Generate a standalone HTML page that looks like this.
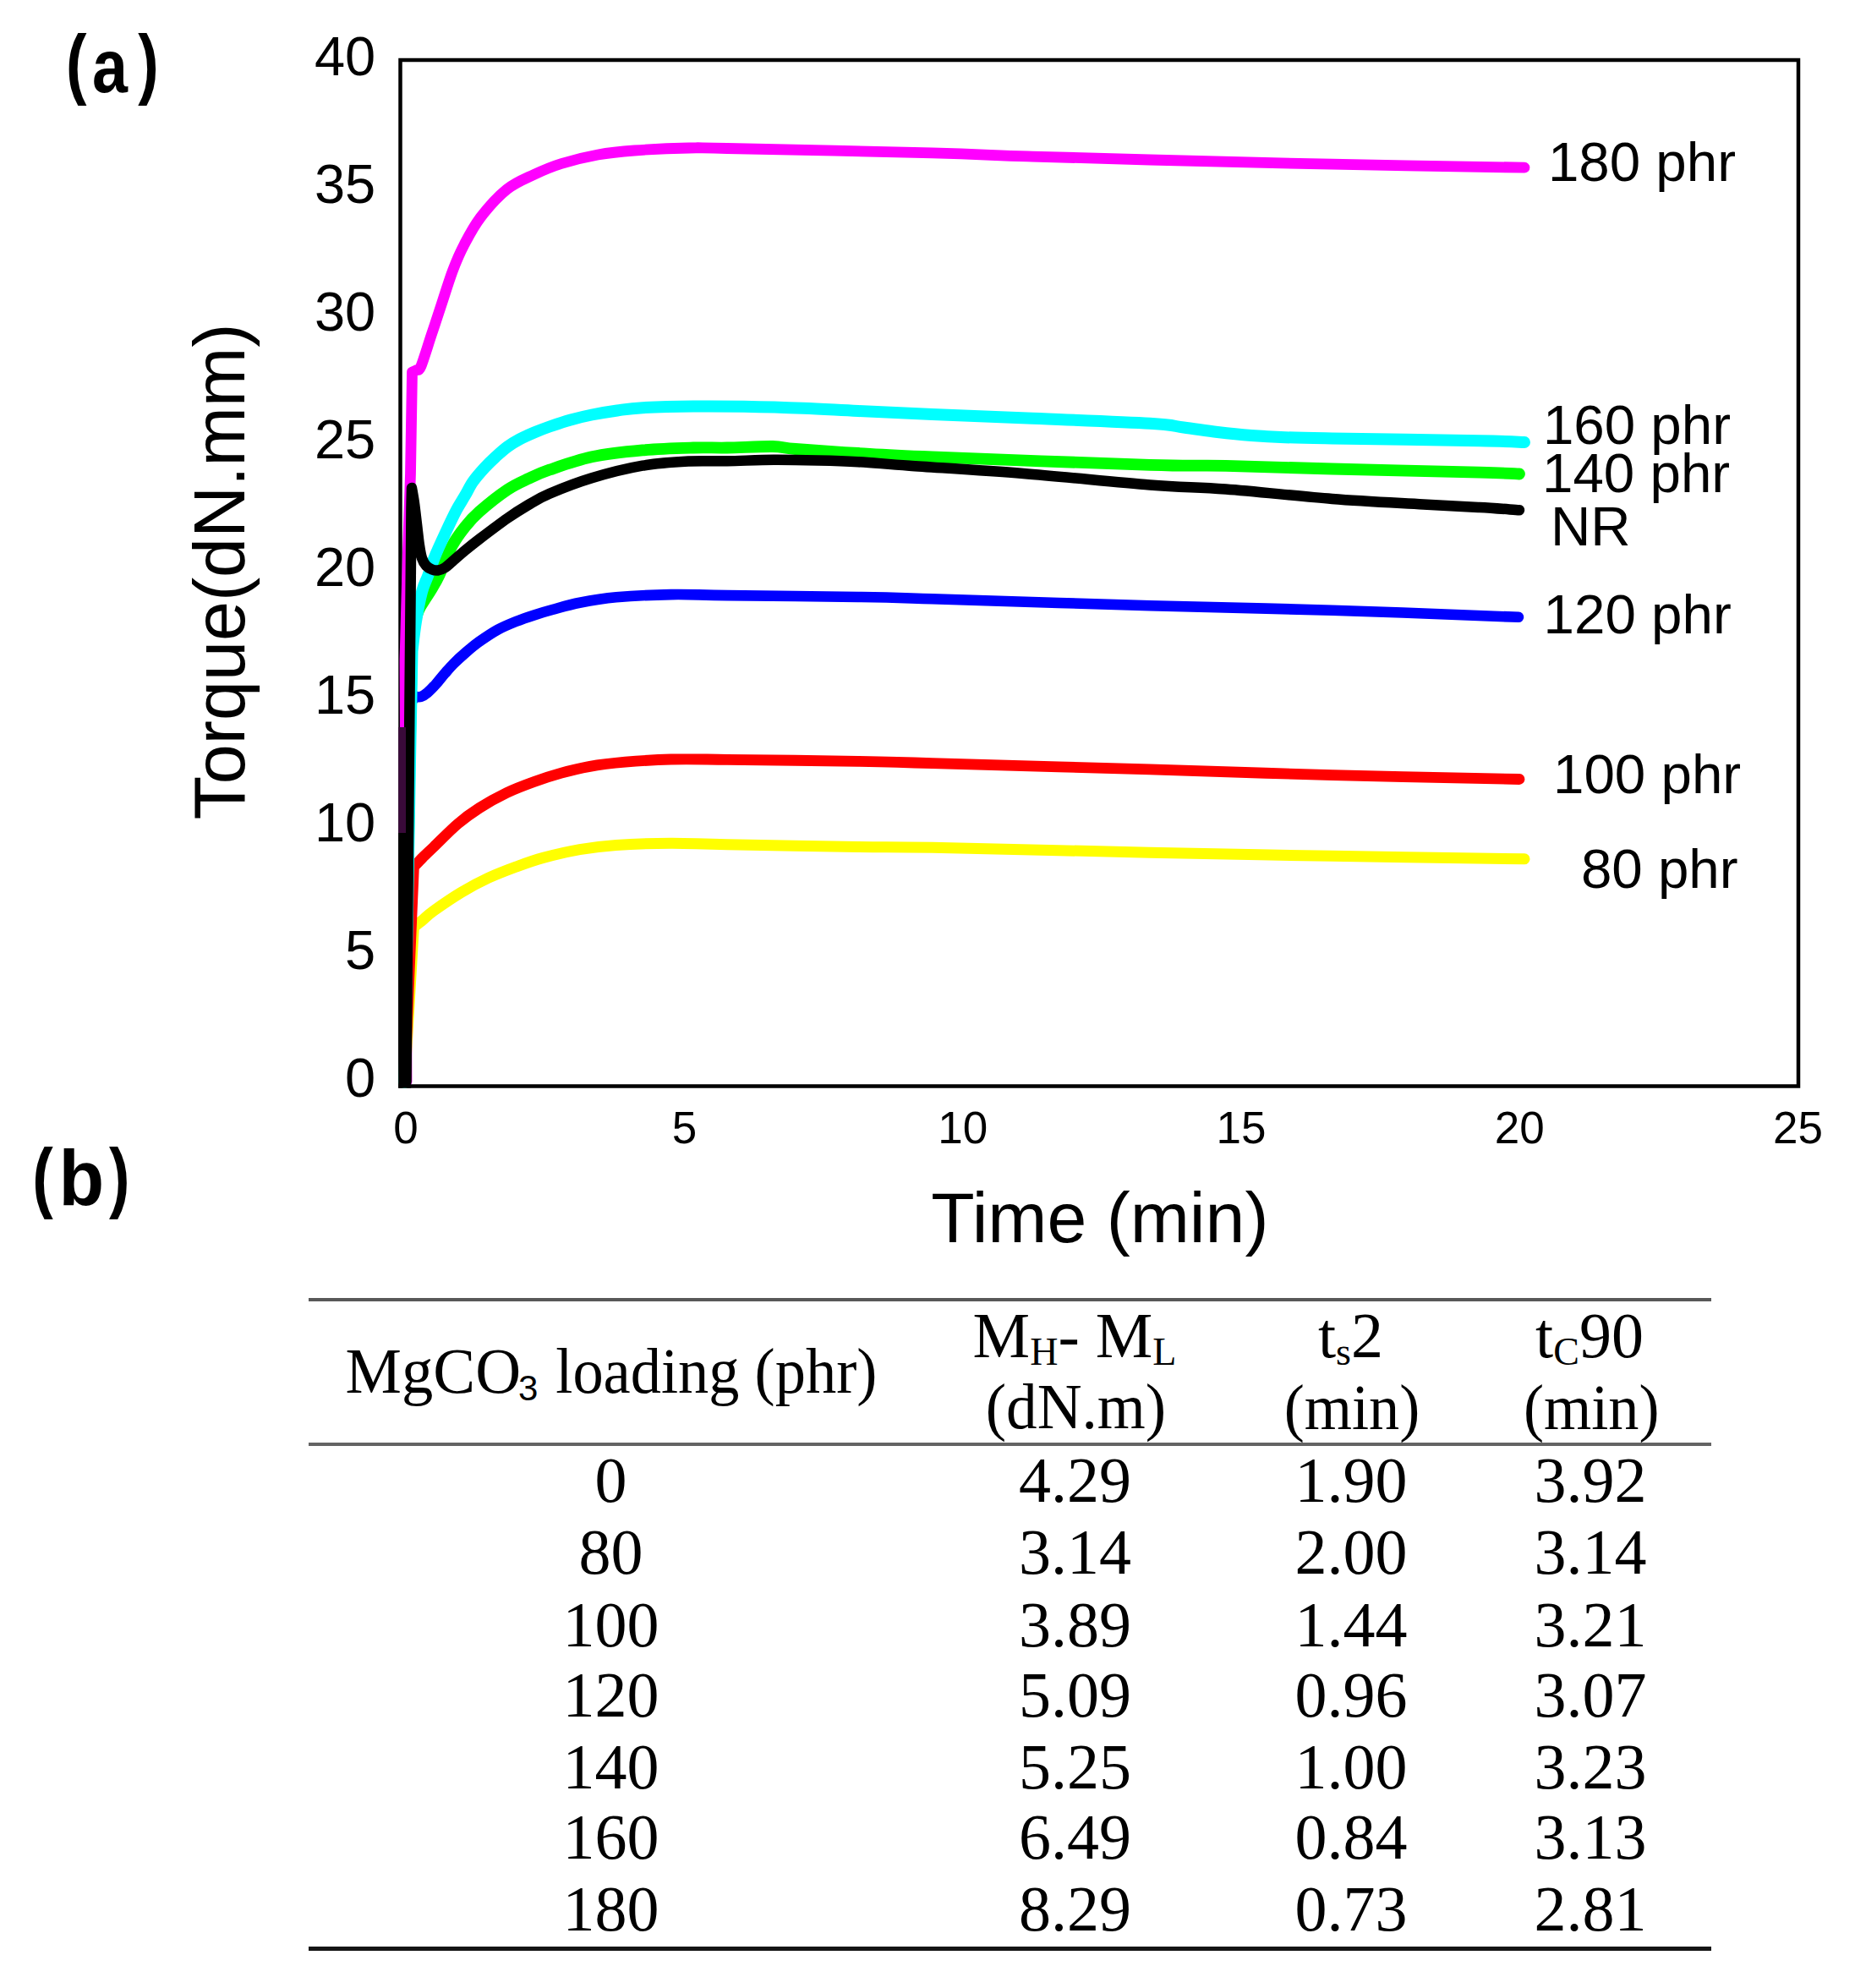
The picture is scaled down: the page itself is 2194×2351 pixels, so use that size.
<!DOCTYPE html>
<html><head><meta charset="utf-8"><title>Torque curves and cure characteristics</title>
<style>
html,body{margin:0;padding:0;background:#fff;}
body{width:2194px;height:2351px;overflow:hidden;position:relative;}
svg{position:absolute;left:0;top:0;display:block;}
.sans{font-family:"Liberation Sans",Arial,sans-serif;}
.serif{font-family:"Liberation Serif","Times New Roman",serif;}
</style></head><body>
<svg width="2194" height="2351" viewBox="0 0 2194 2351">
<rect x="0" y="0" width="2194" height="2351" fill="#fff"/>

<g class="sans" font-size="92" font-weight="bold" fill="#000"><text transform="translate(78.0,106.3) scale(0.8,1.015)">(</text><text transform="translate(109.0,109) scale(0.82,0.96)">a</text><text transform="translate(163.2,106.3) scale(0.8,1.015)">)</text></g>
<g class="sans" font-size="92" font-weight="bold" fill="#000"><text transform="translate(38.3,1422.7) scale(0.8,1.01)">(</text><text transform="translate(69.4,1424.6) scale(0.955,1.01)">b</text><text transform="translate(129.1,1422.7) scale(0.8,1.01)">)</text></g>
<rect x="473.5" y="71" width="1653.5" height="1213.5" fill="none" stroke="#000" stroke-width="4.5"/>
<path d="M478.5,1280.0 L489.4,1096.4 C491.2,1095.0 496.1,1091.2 500.0,1088.0 C503.9,1084.8 505.5,1082.4 513.1,1077.0 C520.7,1071.6 534.7,1061.9 545.5,1055.4 C556.3,1048.9 567.0,1043.2 577.8,1038.2 C588.6,1033.2 599.4,1029.2 610.2,1025.2 C621.0,1021.2 629.9,1017.8 642.5,1014.4 C655.1,1011.0 671.2,1007.2 685.6,1004.7 C700.0,1002.2 710.8,1000.6 728.8,999.4 C746.8,998.1 771.6,997.3 793.5,997.2 C815.4,997.1 823.1,998.1 860.0,998.8 C896.9,999.5 974.6,1000.8 1015.0,1001.4 C1055.4,1002.0 1045.1,1001.2 1102.6,1002.3 C1160.1,1003.4 1281.2,1006.5 1360.0,1008.2 C1438.8,1009.9 1501.8,1011.0 1575.6,1012.3 C1649.4,1013.6 1765.1,1015.2 1803.0,1015.8" fill="none" stroke="#FFFF00" stroke-width="13" stroke-linejoin="round" stroke-linecap="round"/>
<path d="M478.5,1280.0 L489.4,1025.2 C491.2,1023.3 496.1,1018.0 500.0,1014.0 C503.9,1010.0 506.2,1008.1 513.1,1001.5 C520.0,994.9 532.2,982.2 541.2,974.5 C550.2,966.8 557.3,961.7 567.0,955.5 C576.7,949.3 588.6,942.7 599.4,937.5 C610.2,932.3 620.9,928.4 631.7,924.5 C642.5,920.6 653.2,917.2 664.0,914.2 C674.8,911.2 683.8,908.8 696.4,906.6 C709.0,904.4 723.3,902.6 739.5,901.2 C755.7,899.8 773.4,898.5 793.5,898.0 C813.6,897.5 823.1,897.9 860.0,898.3 C896.9,898.7 974.6,899.6 1015.0,900.3 C1055.4,901.0 1045.1,901.0 1102.6,902.6 C1160.1,904.2 1281.2,907.6 1360.0,909.9 C1438.8,912.2 1502.8,914.7 1575.6,916.6 C1648.4,918.5 1760.1,920.7 1797.0,921.5" fill="none" stroke="#FF0000" stroke-width="12.8" stroke-linejoin="round" stroke-linecap="round"/>
<path d="M478.5,1280.0 L484.5,832.0 L491.6,823.9 C492.7,823.9 495.7,824.7 498.0,823.9 C500.3,823.1 502.7,821.5 505.6,819.1 C508.5,816.7 511.9,813.2 515.3,809.4 C518.7,805.6 522.5,800.5 526.1,796.4 C529.7,792.3 532.7,788.7 536.8,784.6 C540.9,780.5 545.9,775.9 550.9,771.6 C555.9,767.3 560.7,763.2 567.0,758.7 C573.3,754.2 581.4,748.7 588.6,744.7 C595.8,740.8 603.0,737.9 610.2,735.0 C617.4,732.1 624.5,729.7 631.7,727.4 C638.9,725.1 644.3,723.4 653.3,721.0 C662.3,718.6 673.0,715.2 685.6,712.8 C698.2,710.3 710.8,707.9 728.8,706.3 C746.8,704.7 771.6,703.5 793.5,703.1 C815.4,702.7 823.1,703.6 860.0,704.1 C896.9,704.6 974.6,705.3 1015.0,706.0 C1055.4,706.7 1045.1,706.5 1102.6,708.2 C1160.1,709.9 1281.2,714.0 1360.0,716.3 C1438.8,718.5 1502.9,719.5 1575.6,721.7 C1648.3,724.0 1759.3,728.4 1796.0,729.8" fill="none" stroke="#0000FF" stroke-width="12.6" stroke-linejoin="round" stroke-linecap="round"/>
<path d="M478.5,1280.0 L484.5,900.0 L487.5,745.0 C488.8,741.2 492.5,727.9 495.0,722.0 C497.5,716.1 499.8,713.7 502.3,709.5 C504.9,705.3 507.4,701.9 510.3,697.0 C513.2,692.1 515.6,688.5 519.6,680.0 C523.6,671.5 529.3,655.5 534.4,646.0 C539.5,636.5 544.6,629.9 550.0,623.1 C555.4,616.3 558.7,612.3 567.0,605.0 C575.3,597.7 590.3,585.7 600.0,579.2 C609.7,572.7 616.7,569.9 625.0,566.0 C633.3,562.1 637.5,559.9 650.0,555.6 C662.5,551.3 681.7,544.2 700.0,540.3 C718.3,536.4 740.0,534.2 760.0,532.4 C780.0,530.6 803.3,530.0 820.0,529.5 C836.7,529.0 844.4,529.8 860.0,529.5 C875.6,529.2 900.4,527.8 913.9,528.0 C927.4,528.2 924.0,529.7 940.9,531.0 C957.8,532.3 988.0,534.4 1015.0,536.0 C1042.0,537.6 1045.1,538.1 1102.6,540.4 C1160.1,542.7 1302.1,548.1 1360.0,549.8 C1417.9,551.5 1414.1,550.0 1450.0,550.8 C1485.9,551.6 1525.6,553.2 1575.6,554.5 C1625.6,555.8 1713.1,557.7 1750.0,558.7 C1786.9,559.7 1789.2,560.2 1797.0,560.5" fill="none" stroke="#00FF00" stroke-width="13.8" stroke-linejoin="round" stroke-linecap="round"/>
<path d="M478.5,1280.0 L485.0,900.0 L487.5,770.0 C488.2,764.2 490.1,746.7 492.0,735.0 C493.9,723.3 496.6,709.2 499.0,700.0 C501.4,690.8 503.8,687.5 506.5,680.0 C509.2,672.5 512.0,663.7 515.5,655.3 C519.0,646.9 523.2,638.0 527.2,629.4 C531.2,620.8 535.9,610.7 539.7,603.5 C543.5,596.3 546.7,591.8 550.0,586.1 C553.3,580.4 555.6,575.0 559.5,569.5 C563.4,564.0 568.9,557.8 573.3,553.0 C577.7,548.2 581.5,544.6 586.0,540.5 C590.5,536.4 595.2,532.0 600.0,528.5 C604.8,525.0 609.2,522.3 614.5,519.5 C619.8,516.7 625.9,514.0 631.8,511.5 C637.7,509.0 642.8,507.0 650.0,504.5 C657.2,502.0 666.7,498.8 675.0,496.5 C683.3,494.2 690.8,492.3 700.0,490.5 C709.2,488.7 720.0,486.9 730.0,485.5 C740.0,484.1 745.0,483.0 760.0,482.2 C775.0,481.4 800.0,480.7 820.0,480.5 C840.0,480.3 858.3,480.4 880.0,480.8 C901.7,481.2 927.5,481.9 950.0,482.8 C972.5,483.7 989.6,484.8 1015.0,486.0 C1040.4,487.2 1069.3,488.5 1102.6,489.9 C1135.9,491.3 1172.1,492.7 1215.0,494.5 C1257.9,496.3 1329.2,499.0 1360.0,500.8 C1390.8,502.6 1386.7,503.8 1400.0,505.5 C1413.3,507.2 1426.7,509.4 1440.0,511.0 C1453.3,512.6 1466.7,514.0 1480.0,515.0 C1493.3,516.0 1504.1,516.6 1520.0,517.2 C1535.9,517.8 1537.3,517.8 1575.6,518.5 C1613.9,519.2 1712.1,520.5 1750.0,521.3 C1787.9,522.0 1794.2,522.7 1803.0,523.0" fill="none" stroke="#00FFFF" stroke-width="14" stroke-linejoin="round" stroke-linecap="round"/>
<path d="M481.0,1279.0 L479.0,780.0 L482.5,650.0 L485.5,560.0 L487.5,440.0 L493.0,437.5 C493.8,436.8 495.2,439.8 498.0,433.0 C500.8,426.2 506.0,408.9 510.0,396.8 C514.0,384.7 517.8,373.4 522.0,360.6 C526.2,347.8 531.0,331.9 535.5,320.0 C540.0,308.1 543.5,299.9 549.0,289.4 C554.5,278.9 560.0,267.9 568.4,257.0 C576.8,246.1 588.9,232.4 599.4,224.0 C609.9,215.6 620.7,211.6 631.5,206.5 C642.3,201.4 651.4,197.4 664.0,193.5 C676.6,189.6 692.8,185.6 707.2,183.0 C721.6,180.4 732.3,179.3 750.3,178.0 C768.3,176.7 796.7,175.4 815.0,175.0 C833.3,174.6 812.1,174.5 860.0,175.5 C907.9,176.5 1043.4,179.3 1102.6,180.9 C1161.8,182.5 1172.1,183.6 1215.0,184.9 C1257.9,186.2 1299.9,187.4 1360.0,189.0 C1420.1,190.6 1501.8,192.7 1575.6,194.2 C1649.4,195.7 1765.1,197.5 1803.0,198.2" fill="none" stroke="#FF00FF" stroke-width="12.8" stroke-linejoin="round" stroke-linecap="round"/>
<path d="M480.5,1279.0 L486.5,600.0 L487.0,577.0 C487.5,580.0 489.0,587.8 490.0,595.0 C491.0,602.2 492.0,611.7 493.0,620.0 C494.0,628.3 495.0,638.3 496.0,645.0 C497.0,651.7 497.7,656.0 499.0,660.0 C500.3,664.0 502.0,666.8 504.0,669.0 C506.0,671.2 508.7,672.6 511.0,673.5 C513.3,674.4 515.5,674.8 518.0,674.5 C520.5,674.2 523.2,673.2 526.0,671.5 C528.8,669.8 531.0,667.4 535.0,664.0 C539.0,660.6 544.7,655.4 550.0,651.0 C555.3,646.6 558.7,643.8 567.0,637.5 C575.3,631.2 590.3,619.8 600.0,613.0 C609.7,606.2 616.7,601.9 625.0,597.0 C633.3,592.1 637.5,589.1 650.0,583.8 C662.5,578.5 681.7,570.8 700.0,565.3 C718.3,559.8 740.8,554.0 760.0,550.7 C779.2,547.4 798.3,546.4 815.0,545.5 C831.7,544.6 843.3,545.6 860.0,545.3 C876.7,545.0 897.0,543.9 915.0,543.8 C933.0,543.7 951.1,544.1 967.8,544.5 C984.5,544.9 997.0,545.2 1015.0,546.2 C1033.0,547.2 1043.0,548.4 1075.6,550.7 C1108.2,553.0 1163.0,556.2 1210.4,560.0 C1257.8,563.8 1320.1,570.4 1360.0,573.5 C1399.9,576.6 1414.1,575.8 1450.0,578.5 C1485.9,581.2 1536.7,587.0 1575.6,590.0 C1614.5,593.0 1654.3,594.8 1683.4,596.5 C1712.5,598.2 1731.1,598.9 1750.0,600.0 C1768.9,601.1 1789.2,602.7 1797.0,603.2" fill="none" stroke="#000000" stroke-width="12.5" stroke-linejoin="round" stroke-linecap="round"/>
<polygon points="471.2,1286.7 471.2,985 488.5,985 486.2,1286.7" fill="#000"/><polygon points="471.2,985 471.2,860 480,860 480,985" fill="#3a0a3a"/>
<text class="sans" x="444.2" y="89.3" font-size="65" text-anchor="end" fill="#000">40</text>
<text class="sans" x="444.2" y="240.2" font-size="65" text-anchor="end" fill="#000">35</text>
<text class="sans" x="444.2" y="391.2" font-size="65" text-anchor="end" fill="#000">30</text>
<text class="sans" x="444.2" y="542.1" font-size="65" text-anchor="end" fill="#000">25</text>
<text class="sans" x="444.2" y="693.1" font-size="65" text-anchor="end" fill="#000">20</text>
<text class="sans" x="444.2" y="844.0" font-size="65" text-anchor="end" fill="#000">15</text>
<text class="sans" x="444.2" y="995.0" font-size="65" text-anchor="end" fill="#000">10</text>
<text class="sans" x="444.2" y="1145.9" font-size="65" text-anchor="end" fill="#000">5</text>
<text class="sans" x="444.2" y="1296.9" font-size="65" text-anchor="end" fill="#000">0</text>
<text class="sans" x="480.1" y="1351.7" font-size="53" text-anchor="middle" fill="#000">0</text>
<text class="sans" x="809.4" y="1351.7" font-size="53" text-anchor="middle" fill="#000">5</text>
<text class="sans" x="1138.7" y="1351.7" font-size="53" text-anchor="middle" fill="#000">10</text>
<text class="sans" x="1468.0" y="1351.7" font-size="53" text-anchor="middle" fill="#000">15</text>
<text class="sans" x="1797.3" y="1351.7" font-size="53" text-anchor="middle" fill="#000">20</text>
<text class="sans" x="2126.6" y="1351.7" font-size="53" text-anchor="middle" fill="#000">25</text>
<text class="sans" transform="translate(289,676) rotate(-90)" x="0" y="0" font-size="84.5" text-anchor="middle" fill="#000">Torque(dN.mm)</text>
<text class="sans" x="1300.9" y="1468.8" font-size="84.2" text-anchor="middle" fill="#000">Time (min)</text>
<text class="sans" x="1830.9" y="213.8" font-size="65.5" fill="#000">180 phr</text>
<text class="sans" x="1824.9" y="525.3" font-size="65.5" fill="#000">160 phr</text>
<text class="sans" x="1824.0" y="582.4" font-size="65.5" fill="#000">140 phr</text>
<text class="sans" x="1834.0" y="645.1" font-size="65.5" fill="#000">NR</text>
<text class="sans" x="1825.6" y="749.4" font-size="65.5" fill="#000">120 phr</text>
<text class="sans" x="1837.0" y="938.2" font-size="65.5" fill="#000">100 phr</text>
<text class="sans" x="1869.9" y="1050.1" font-size="65.5" fill="#000">80 phr</text>
<rect x="365" y="1535" width="1659" height="4" fill="#585858"/>
<rect x="365" y="1706" width="1659" height="4" fill="#646464"/>
<rect x="365" y="2302" width="1659" height="5" fill="#151515"/>
<text class="serif" transform="translate(408.6,1647.3) scale(0.983,1)" x="0" y="0" font-size="76" fill="#000">MgCO</text>
<text class="sans" x="613" y="1656.3" font-size="42" fill="#000">3</text>
<text class="serif" transform="translate(657.3,1647.3) scale(0.953,1)" x="0" y="0" font-size="76" fill="#000">loading (phr)</text>
<text class="serif" x="1271" y="1605.3" font-size="76" text-anchor="middle" fill="#000">M<tspan font-size="46" dy="9">H</tspan><tspan dy="-9">- M</tspan><tspan font-size="46" dy="9">L</tspan></text>
<text class="serif" transform="translate(1272.45,1688.7) scale(0.963,1)" x="0" y="0" font-size="76" text-anchor="middle" fill="#000">(dN.m)</text>
<text class="serif" x="1597.5" y="1605" font-size="76" text-anchor="middle" fill="#000">t<tspan font-size="46" dy="9">s</tspan><tspan dy="-9">2</tspan></text>
<text class="serif" transform="translate(1599,1689.9) scale(0.951,1)" x="0" y="0" font-size="76" text-anchor="middle" fill="#000">(min)</text>
<text class="serif" x="1880" y="1605" font-size="76" text-anchor="middle" fill="#000">t<tspan font-size="46" dy="9">C</tspan><tspan dy="-9">90</tspan></text>
<text class="serif" transform="translate(1882.25,1689.9) scale(0.951,1)" x="0" y="0" font-size="76" text-anchor="middle" fill="#000">(min)</text>
<text class="serif" x="722.5" y="1775.5" font-size="76" text-anchor="middle" fill="#000">0</text>
<text class="serif" x="1271.5" y="1775.5" font-size="76" text-anchor="middle" fill="#000">4.29</text>
<text class="serif" x="1598" y="1775.5" font-size="76" text-anchor="middle" fill="#000">1.90</text>
<text class="serif" x="1881" y="1775.5" font-size="76" text-anchor="middle" fill="#000">3.92</text>
<text class="serif" x="722.5" y="1860.7" font-size="76" text-anchor="middle" fill="#000">80</text>
<text class="serif" x="1271.5" y="1860.7" font-size="76" text-anchor="middle" fill="#000">3.14</text>
<text class="serif" x="1598" y="1860.7" font-size="76" text-anchor="middle" fill="#000">2.00</text>
<text class="serif" x="1881" y="1860.7" font-size="76" text-anchor="middle" fill="#000">3.14</text>
<text class="serif" x="722.5" y="1947.3" font-size="76" text-anchor="middle" fill="#000">100</text>
<text class="serif" x="1271.5" y="1947.3" font-size="76" text-anchor="middle" fill="#000">3.89</text>
<text class="serif" x="1598" y="1947.3" font-size="76" text-anchor="middle" fill="#000">1.44</text>
<text class="serif" x="1881" y="1947.3" font-size="76" text-anchor="middle" fill="#000">3.21</text>
<text class="serif" x="722.5" y="2029.7" font-size="76" text-anchor="middle" fill="#000">120</text>
<text class="serif" x="1271.5" y="2029.7" font-size="76" text-anchor="middle" fill="#000">5.09</text>
<text class="serif" x="1598" y="2029.7" font-size="76" text-anchor="middle" fill="#000">0.96</text>
<text class="serif" x="1881" y="2029.7" font-size="76" text-anchor="middle" fill="#000">3.07</text>
<text class="serif" x="722.5" y="2115.2" font-size="76" text-anchor="middle" fill="#000">140</text>
<text class="serif" x="1271.5" y="2115.2" font-size="76" text-anchor="middle" fill="#000">5.25</text>
<text class="serif" x="1598" y="2115.2" font-size="76" text-anchor="middle" fill="#000">1.00</text>
<text class="serif" x="1881" y="2115.2" font-size="76" text-anchor="middle" fill="#000">3.23</text>
<text class="serif" x="722.5" y="2197.9" font-size="76" text-anchor="middle" fill="#000">160</text>
<text class="serif" x="1271.5" y="2197.9" font-size="76" text-anchor="middle" fill="#000">6.49</text>
<text class="serif" x="1598" y="2197.9" font-size="76" text-anchor="middle" fill="#000">0.84</text>
<text class="serif" x="1881" y="2197.9" font-size="76" text-anchor="middle" fill="#000">3.13</text>
<text class="serif" x="722.5" y="2283.1" font-size="76" text-anchor="middle" fill="#000">180</text>
<text class="serif" x="1271.5" y="2283.1" font-size="76" text-anchor="middle" fill="#000">8.29</text>
<text class="serif" x="1598" y="2283.1" font-size="76" text-anchor="middle" fill="#000">0.73</text>
<text class="serif" x="1881" y="2283.1" font-size="76" text-anchor="middle" fill="#000">2.81</text>
</svg>
</body></html>
